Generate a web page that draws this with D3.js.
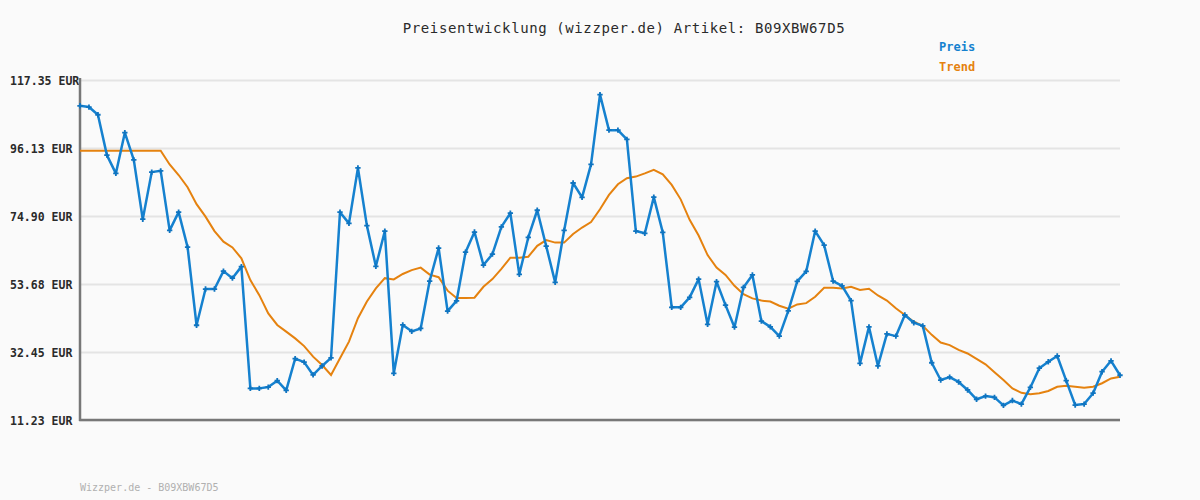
<!DOCTYPE html>
<html>
<head>
<meta charset="utf-8">
<script src="https://cdn.jsdelivr.net/npm/d3@7"></script>
<style>
  html, body { margin: 0; padding: 0; background: #fafafa; }
  svg { display: block; }
</style>
</head>
<body>
<svg id="chart" width="1200" height="500"></svg>
<script>
const title = "Preisentwicklung (wizzper.de) Artikel: B09XBW67D5";
const footer = "Wizzper.de - B09XBW67D5";
const seriesNames = ["Preis", "Trend"];
const tickValues = [117.35, 96.13, 74.90, 53.68, 32.45, 11.23];
const tickLabels = ["117.35 EUR", "96.13 EUR", "74.90 EUR", "53.68 EUR", "32.45 EUR", "11.23 EUR"];

const price = [109.3,108.9,106.5,93.9,88.2,100.9,92.4,73.9,88.6,89.0,
  70.4,76.1,65.2,40.8,52.1,52.1,57.7,55.5,59.1,21.1,
  21.1,21.5,23.5,20.5,30.4,29.3,25.3,28.1,30.6,76.1,
  72.6,89.9,71.9,59.2,70.2,25.8,40.9,38.9,39.8,54.6,
  64.9,45.2,48.4,63.6,69.9,59.6,63.0,71.5,75.8,56.7,
  68.2,76.7,65.5,54.2,70.4,85.2,80.7,91.0,112.8,101.7,
  101.7,98.8,70.2,69.5,80.8,69.8,46.4,46.4,49.5,55.2,
  41.1,54.4,47.1,40.2,52.6,56.5,42.1,40.3,37.4,45.3,
  54.5,57.6,70.2,65.8,54.6,53.1,48.5,28.9,40.3,28.1,
  38.1,37.4,44.0,41.6,40.6,29.1,23.7,24.6,23.1,20.6,
  17.7,18.7,18.3,15.8,17.3,16.2,21.4,27.4,29.4,31.2,
  23.5,15.9,16.2,19.6,26.3,29.7,25.2];

const trend = [95.3,95.3,95.3,95.3,95.3,95.3,95.3,95.3,95.3,95.3,
  91.0,87.7,83.9,78.6,74.7,70.2,66.9,65.1,61.7,54.9,
  50.2,44.5,40.9,38.8,36.7,34.3,31.0,28.4,25.3,30.5,
  35.7,43.0,48.2,52.3,55.5,55.1,56.8,58.0,58.8,56.6,
  55.8,51.6,49.3,49.3,49.4,52.8,55.2,58.4,61.9,61.9,
  62.2,65.6,67.4,66.6,66.6,69.3,71.3,73.0,77.0,81.5,
  84.8,86.7,87.2,88.2,89.3,87.9,84.6,80.1,73.7,68.8,
  62.7,58.8,56.5,53.1,50.5,49.2,48.5,48.2,46.9,46.0,
  47.3,47.7,49.7,52.5,52.5,52.3,52.8,51.8,52.2,50.1,
  48.5,46.1,44.0,41.9,40.6,37.8,35.4,34.6,33.1,32.0,
  30.3,28.6,26.1,23.7,21.1,19.7,19.3,19.6,20.3,21.6,
  21.9,21.6,21.3,21.6,22.7,24.2,24.7];

const categories = price.map((_, i) => i);

const colors = { Preis: "#1581cf", Trend: "#e5820f" };
const mLeft = 80, mRight = 1120, mTop = 80, mBottom = 420;

const svg = d3.select("#chart");
svg.append("rect").attr("width", 1200).attr("height", 500).attr("fill", "#fafafa");

const x = d3.scaleLinear().domain([0, categories.length - 1]).range([mLeft, mRight]);
const y = d3.scaleLinear().domain([tickValues[tickValues.length - 1], tickValues[0]]).range([mBottom, mTop]);

// grid
const grid = svg.append("g").attr("transform", `translate(${mLeft},0)`)
  .call(d3.axisLeft(y).tickValues(tickValues).tickSize(-(mRight - mLeft)).tickFormat(""));
grid.select(".domain").remove();
grid.selectAll(".tick line").attr("stroke", "#e4e4e4").attr("stroke-width", 2);

// axis labels
const axis = svg.append("g").attr("transform", `translate(${mLeft},0)`)
  .call(d3.axisLeft(y).tickValues(tickValues).tickSize(0)
    .tickFormat((d, i) => tickLabels[i]));
axis.select(".domain").remove();
axis.selectAll(".tick text")
  .attr("x", 10 - mLeft)
  .attr("dy", "0.35em")
  .attr("text-anchor", "start")
  .attr("fill", "#2a2a2a")
  .style("font-family", "'DejaVu Sans Mono', monospace")
  .style("font-weight", "bold")
  .style("font-size", "11.5px");

// axis lines
svg.append("line").attr("x1", mLeft).attr("x2", mLeft).attr("y1", mTop - 2).attr("y2", mBottom + 1)
  .attr("stroke", "#777").attr("stroke-width", 2.5);
svg.append("line").attr("x1", mLeft - 1).attr("x2", mRight).attr("y1", mBottom).attr("y2", mBottom)
  .attr("stroke", "#777").attr("stroke-width", 2.5);

// trend line
const line = d3.line().x((d, i) => x(categories[i])).y(d => y(d));
svg.append("path").datum(trend)
  .attr("d", line).attr("fill", "none")
  .attr("stroke", colors.Trend).attr("stroke-width", 2);

// price line
svg.append("path").datum(price)
  .attr("d", line).attr("fill", "none")
  .attr("stroke", colors.Preis).attr("stroke-width", 2.5).attr("stroke-linejoin", "round");

// markers
svg.append("g").selectAll("path").data(price).join("path")
  .attr("transform", (d, i) => `translate(${x(categories[i])},${y(d)})`)
  .attr("d", d3.symbol(d3.symbolCross, 16))
  .attr("fill", "#0f74c0");

// title
svg.append("text").attr("x", 624).attr("y", 33)
  .attr("text-anchor", "middle")
  .attr("fill", "#2a2a2a")
  .style("font-family", "'DejaVu Sans Mono', monospace")
  .style("font-size", "14px")
  .style("letter-spacing", "0.6px")
  .text(title);

// legend
seriesNames.forEach((name, i) => {
  svg.append("text").attr("x", 939).attr("y", 51 + i * 20)
    .attr("fill", colors[name])
    .style("font-family", "'DejaVu Sans Mono', monospace")
    .style("font-weight", "bold")
    .style("font-size", "12px")
    .text(name);
});

// footer
svg.append("text").attr("x", 80).attr("y", 491)
  .attr("fill", "#b0b0b0")
  .style("font-family", "'DejaVu Sans Mono', monospace")
  .style("font-size", "10px")
  .text(footer);
</script>
</body>
</html>
